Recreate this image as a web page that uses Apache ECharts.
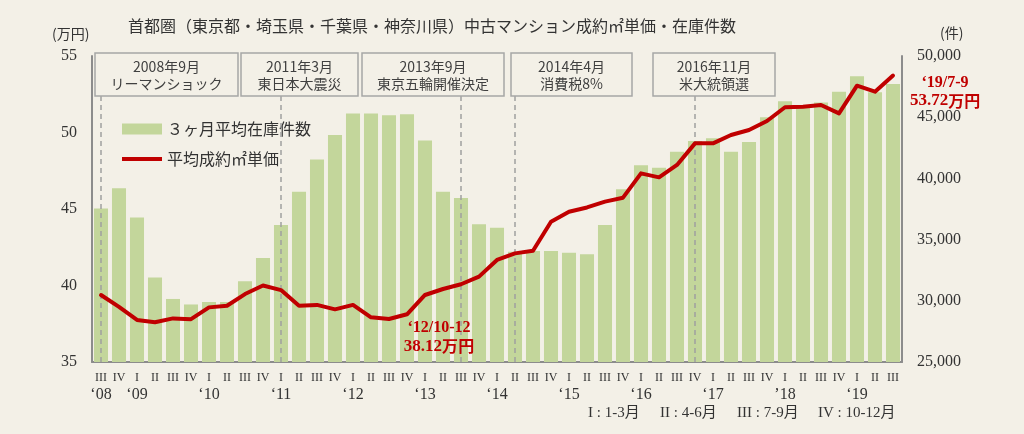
<!DOCTYPE html>
<html>
<head>
<meta charset="utf-8">
<script src="https://cdn.jsdelivr.net/npm/echarts@6/dist/echarts.min.js"></script>
<style>
html,body{margin:0;padding:0;background:#f3f0e7;}
#chart{width:1024px;height:434px;}
</style>
</head>
<body>
<div id="chart"></div>
<script>
// ---- data ----
const quarterLabels = [
  'III','IV',
  'I','II','III','IV',
  'I','II','III','IV',
  'I','II','III','IV',
  'I','II','III','IV',
  'I','II','III','IV',
  'I','II','III','IV',
  'I','II','III','IV',
  'I','II','III','IV',
  'I','II','III','IV',
  'I','II','III','IV',
  'I','II','III'
];
const yearLabels = [
  '‘08','',
  '‘09','','','',
  '‘10','','','',
  '‘11','','','',
  '‘12','','','',
  '‘13','','','',
  '‘14','','','',
  '‘15','','','',
  '‘16','','','',
  '‘17','','','',
  '’18','','','',
  '‘19','',''
];
const inventory = [
  37550, 39200,
  36800, 31900, 30150, 29700,
  29900, 29900, 31600, 33500,
  36200, 38900, 41550, 43550,
  45300, 45300, 45150, 45250,
  43100, 38900, 38400, 36250,
  35970, 34000, 34070, 34070,
  33930, 33800, 36190, 39110,
  41070, 40870, 42180, 43050,
  43280, 42180, 42970, 44990,
  46300, 45860, 46210, 47080,
  48350, 47030, 47710
];
const unitPrice = [
  39.38, 38.60,
  37.75, 37.60, 37.85, 37.80,
  38.57, 38.68, 39.44, 40.00,
  39.70, 38.68, 38.73, 38.44,
  38.73, 37.92, 37.81, 38.12,
  39.38, 39.77, 40.08, 40.58,
  41.67, 42.10, 42.27, 44.17,
  44.82, 45.10, 45.48, 45.74,
  47.33, 47.07, 47.88, 49.29,
  49.29, 49.84, 50.16, 50.75,
  51.65, 51.69, 51.80, 51.25,
  53.06, 52.67, 53.72
];
const eventIndex = [0, 10, 20, 23, 33];
const eventTitles = ['2008年9月', '2011年3月', '2013年9月', '2014年4月', '2016年11月'];
const eventNames = ['リーマンショック', '東日本大震災', '東京五輪開催決定', '消費税8%', '米大統領選'];
const annotations = [
  {index: 17, period: '‘12/10-12', price: '38.12'},
  {index: 44, period: '‘19/7-9', price: '53.72'}
];
const seriesNames = ['３ヶ月平均在庫件数', '平均成約㎡単価'];
const titleText = '首都圏（東京都・埼玉県・千葉県・神奈川県）中古マンション成約㎡単価・在庫件数';
const footnoteParts = ['I : 1-3月', 'II : 4-6月', 'III : 7-9月', 'IV : 10-12月'];

// ---- styling ----
const BG = '#f3f0e7';
const SERIF = "'Liberation Serif','Noto Sans CJK JP',serif";
const GOTHIC = "'Noto Sans CJK JP','Noto Sans',sans-serif";
const TEXT = '#333333';
const AXIS = '#8c8c8c';
const RED = '#c00000';

const categories = quarterLabels.map((q, i) => q + '|' + yearLabels[i]);

// event boxes (annotation layout)
const boxes = [
  {x: 95, w: 143}, {x: 241, w: 117}, {x: 362, w: 142}, {x: 511, w: 121}, {x: 653, w: 122}
];
const graphics = [];
boxes.forEach((b, k) => {
  graphics.push({
    type: 'rect', z: 100,
    shape: {x: b.x, y: 53, width: b.w, height: 43},
    style: {fill: BG, stroke: '#a6a6a6', lineWidth: 1.5}
  });
  graphics.push({
    type: 'text', z: 101,
    style: {
      x: b.x + b.w / 2, y: 75, text: eventTitles[k] + '\n' + eventNames[k],
      align: 'center', verticalAlign: 'middle',
      font: "14px " + GOTHIC, fill: '#404040', lineHeight: 17
    }
  });
});
graphics.push({type: 'text', z: 100, style: {x: 52, y: 34, text: '(万円)', verticalAlign: 'middle', font: '14px ' + GOTHIC, fill: TEXT}});
graphics.push({type: 'text', z: 100, style: {x: 940, y: 33, text: '(件)', verticalAlign: 'middle', font: '14px ' + GOTHIC, fill: TEXT}});
const footX = [588, 660, 737, 818];
footnoteParts.forEach((t, k) => {
  graphics.push({type: 'text', z: 100, style: {x: footX[k], y: 413, text: t, verticalAlign: 'middle', font: '15px ' + SERIF, fill: TEXT}});
});

const markPoints = annotations.map(a => ({
  coord: [a.index, unitPrice[a.index]],
  value: a.price,
  label: {
    formatter: '{p|' + a.period + '}\n{v|' + a.price + '}{u|万円}',
    offset: a.index === 17 ? [32, 23] : [52, 16]
  }
}));

const lineIcon = 'path://M0,0 L0.01,0 L0.01,0.01 Z M0,3.5 L40,3.5 L40,7.5 L0,7.5 Z M0,11 L0.01,11 L0.01,10.99 Z';

const chart = echarts.init(document.getElementById('chart'), null, {renderer: 'canvas'});
chart.setOption({
  backgroundColor: BG,
  animation: false,
  title: {
    text: titleText,
    left: 123, top: 13,
    textStyle: {fontFamily: GOTHIC, fontSize: 16, fontWeight: 'normal', color: TEXT}
  },
  legend: {
    orient: 'vertical',
    left: 117, top: 116,
    itemWidth: 40, itemHeight: 11, itemGap: 14,
    textStyle: {fontFamily: GOTHIC, fontSize: 16, color: TEXT},
    data: [{name: seriesNames[0], icon: 'rect'}, {name: seriesNames[1], icon: lineIcon}]
  },
  grid: {left: 92, right: 122, top: 56, bottom: 72, containLabel: false},
  xAxis: {
    type: 'category',
    data: categories,
    axisLine: {lineStyle: {color: AXIS, width: 2}},
    axisTick: {show: false},
    axisLabel: {
      interval: 0, margin: 8,
      formatter: v => {
        const [q, y] = v.split('|');
        return '{q|' + q + '}\n{y|' + (y || ' ') + '}';
      },
      rich: {
        q: {fontFamily: SERIF, fontSize: 12, color: TEXT, lineHeight: 16},
        y: {fontFamily: SERIF, fontSize: 16, color: TEXT, lineHeight: 18}
      }
    }
  },
  yAxis: [
    {
      type: 'value', min: 35, max: 55, interval: 5, position: 'left',
      axisLine: {show: true, lineStyle: {color: AXIS, width: 2}},
      axisTick: {show: false},
      splitLine: {show: false},
      axisLabel: {margin: 15, fontFamily: SERIF, fontSize: 16, color: TEXT}
    },
    {
      type: 'value', min: 25000, max: 50000, interval: 5000, position: 'right',
      axisLine: {show: true, lineStyle: {color: AXIS, width: 2}},
      axisTick: {show: false},
      splitLine: {show: false},
      axisLabel: {margin: 15, fontFamily: SERIF, fontSize: 16, color: TEXT,
        formatter: v => v.toLocaleString('en-US')}
    }
  ],
  series: [
    {
      name: seriesNames[0],
      type: 'bar',
      yAxisIndex: 1,
      data: inventory,
      barCategoryGap: '22%',
      itemStyle: {color: '#c3d69b'},
      markLine: {
        silent: true, symbol: 'none',
        label: {show: false},
        lineStyle: {color: '#a0a0a0', type: [5, 4], width: 1.5},
        data: eventIndex.map(i => ({xAxis: i}))
      }
    },
    {
      name: seriesNames[1],
      type: 'line',
      yAxisIndex: 0,
      data: unitPrice,
      symbol: 'none',
      lineStyle: {color: RED, width: 4, cap: 'round', join: 'round'},
      itemStyle: {color: RED},
      z: 5,
      markPoint: {
        symbol: 'circle', symbolSize: 1,
        itemStyle: {color: 'rgba(0,0,0,0)'},
        label: {
          show: true, position: 'inside', align: 'center',
          rich: {
            p: {fontFamily: SERIF, fontSize: 16, fontWeight: 'bold', color: RED, lineHeight: 18, align: 'center'},
            v: {fontFamily: SERIF, fontSize: 17, fontWeight: 'bold', color: RED, lineHeight: 18},
            u: {fontFamily: GOTHIC, fontSize: 16, fontWeight: 'bold', color: RED, lineHeight: 18}
          }
        },
        data: markPoints
      }
    }
  ],
  graphic: graphics
});
</script>
</body>
</html>
